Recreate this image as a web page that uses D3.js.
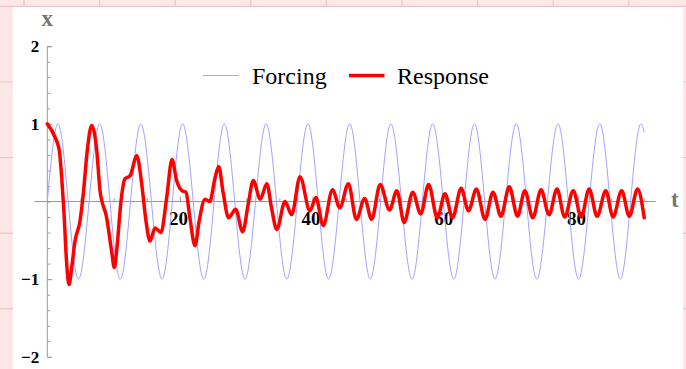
<!DOCTYPE html>
<html>
<head>
<meta charset="utf-8">
<script src="https://cdn.jsdelivr.net/npm/d3@7"></script>
<style>
  body { margin: 0; background: #fce8e8; }
  svg { display: block; }
</style>
</head>
<body>
<div id="chart"></div>
<script>
// forcing: extrema (t, x)
var forcingT = [0, 1.6, 4.7, 7.9, 11.0, 14.1, 17.3, 20.4, 23.6, 26.7, 29.8, 33.0, 36.1, 39.3, 42.4,
  45.6, 48.7, 51.8, 55.0, 58.1, 61.3, 64.4, 67.5, 70.7, 73.8, 77.0, 80.1, 83.3, 86.4, 89.5, 90];
var forcingX = [0, 1, -1, 1, -1, 1, -1, 1, -1, 1, -1, 1, -1, 1, -1,
  1, -1, 1, -1, 1, -1, 1, -1, 1, -1, 1, -1, 1, -1, 1, 0.89];

// response: points
var responseT = [0, 1.16, 1.8, 2.17, 2.5, 2.9, 3.27, 3.68, 4.18, 4.93, 5.43, 6.03, 6.69, 7.45, 7.95,
  8.95, 9.7, 10.1, 10.55, 11.07, 11.7, 12.47, 13.5, 14.23, 14.88, 15.48, 16.24, 17.14, 18.0, 18.8,
  19.5, 20.3, 20.9, 21.5, 22.27, 22.9, 23.78, 24.5, 25.3, 25.85, 26.5, 27.35, 28.4, 29.46, 30.3,
  31.06, 32.1, 33.1, 33.8, 34.6, 35.84, 36.85, 38.1, 39.6, 40.5, 41.6, 43.0, 44.1, 45.4, 46.6,
  47.85, 48.9, 50.2, 51.6, 52.7, 53.8, 55.1, 56.3, 57.5, 58.8, 59.96, 61.1, 62.4, 63.5, 64.7,
  66.0, 67.2, 68.4, 69.65, 70.9, 72.0, 73.2, 74.45, 75.65, 76.85, 78.0, 79.3, 80.5, 81.7, 82.9,
  84.2, 85.3, 86.6, 87.75, 89.0, 90.0];
var responseX = [1.00, 0.83, 0.66, 0.31, -0.12, -0.77, -1.07, -0.85, -0.51, -0.25, 0.10, 0.66, 0.98, 0.66, 0.14,
  -0.21, -0.64, -0.85, -0.55, -0.03, 0.29, 0.33, 0.59, 0.23, -0.25, -0.51, -0.34, -0.40, 0.05, 0.54,
  0.27, 0.14, 0.12, -0.21, -0.57, -0.25, 0.03, 0.0, 0.31, 0.45, 0.12, -0.21, -0.10, -0.39, -0.03,
  0.27, 0.03, 0.23, -0.08, -0.36, 0.0, -0.17, 0.32, -0.12, 0.05, -0.31, 0.15, -0.08, 0.23, -0.23,
  0.04, -0.23, 0.22, -0.11, 0.14, -0.27, 0.12, -0.16, 0.22, -0.21, 0.10, -0.21, 0.17, -0.12, 0.16,
  -0.23, 0.12, -0.19, 0.19, -0.19, 0.14, -0.21, 0.15, -0.17, 0.16, -0.2, 0.14, -0.2, 0.16, -0.19,
  0.14, -0.2, 0.14, -0.19, 0.16, -0.21];

var xTicks = [20, 40, 60, 80];
var yTicks = [-2, -1, 1, 2];
var seriesNames = ["Forcing", "Response"];

var width = 686, height = 369;

var svg = d3.select("#chart").append("svg")
    .attr("width", width)
    .attr("height", height);

// notebook grid behind the white panel
var grid = svg.append("g").attr("stroke", "#efc3c3").attr("stroke-width", 1.2);
d3.range(24, width, 75.6).forEach(function(v) {
  grid.append("line").attr("x1", v).attr("x2", v).attr("y1", 0).attr("y2", height);
});
d3.range(6.4, height, 75.6).forEach(function(v) {
  grid.append("line").attr("x1", 0).attr("x2", width).attr("y1", v).attr("y2", v);
});
svg.append("rect").attr("x", 13).attr("y", 7).attr("width", 670).attr("height", height - 7)
    .attr("fill", "#fff");

var x = d3.scaleLinear().domain([0, 80]).range([47.3, 577.9]);
var y = d3.scaleLinear().domain([-2, 2]).range([356.8, 46.2]);

var axisColor = "#999";

// y axis
var yMinor = svg.append("g").attr("transform", "translate(" + x(0) + ",0)")
    .call(d3.axisLeft(y).tickValues(d3.range(-2, 2.01, 0.2)).tickSizeInner(-3).tickSizeOuter(0).tickFormat(""));
var yMajor = svg.append("g").attr("transform", "translate(" + x(0) + ",0)")
    .call(d3.axisLeft(y).tickValues(yTicks).tickSizeInner(-5).tickSizeOuter(0).tickPadding(8)
      .tickFormat(function(d) { return d < 0 ? "\u2212" + Math.abs(d) : d; }));

// x axis
var xMinor = svg.append("g").attr("transform", "translate(0," + y(0) + ")")
    .call(d3.axisBottom(x).tickValues(d3.range(5, 91, 5)).tickSizeInner(-3).tickSizeOuter(0).tickFormat(""));
var xMajor = svg.append("g").attr("transform", "translate(0," + y(0) + ")")
    .call(d3.axisBottom(x).tickValues(xTicks).tickSizeInner(-5).tickSizeOuter(0).tickPadding(13));

[yMinor, yMajor, xMinor, xMajor].forEach(function(g) {
  g.select(".domain").remove();
  g.selectAll("line").attr("stroke", axisColor);
  g.selectAll("text")
    .attr("fill", "#000")
    .style("font-family", "'Liberation Serif', serif")
    .style("font-weight", "bold")
    .style("font-size", "17px");
});
xMajor.selectAll("text").attr("dx", "-2").style("font-size", "19px").attr("dy", "0.55em");

svg.append("line").attr("x1", x(0)).attr("x2", x(0)).attr("y1", y(2)).attr("y2", y(-2))
    .attr("stroke", axisColor);
svg.append("line").attr("x1", 34.3).attr("x2", 655.7).attr("y1", y(0)).attr("y2", y(0))
    .attr("stroke", axisColor);

svg.append("text").attr("x", x(0)).attr("y", 26).attr("text-anchor", "middle")
    .style("font-family", "'Liberation Serif', serif").style("font-weight", "bold")
    .style("font-size", "23px").attr("fill", "#777").text("x");
svg.append("text").attr("x", 671).attr("y", 207)
    .style("font-family", "'Liberation Serif', serif").style("font-weight", "bold")
    .style("font-size", "23px").attr("fill", "#777").text("t");

var forcing = forcingT.map(function(t, i) { return [t, forcingX[i]]; });
var response = responseT.map(function(t, i) { return [t, responseX[i]]; });

var line = d3.line()
    .x(function(d) { return x(d[0]); })
    .y(function(d) { return y(d[1]); })
    .curve(d3.curveMonotoneX);

svg.append("path").datum(forcing).attr("d", line)
    .attr("fill", "none").attr("stroke", "#a3a3ff").attr("stroke-width", 1);
svg.append("path").datum(response).attr("d", line)
    .attr("fill", "none").attr("stroke", "#ff0000").attr("stroke-width", 3.5)
    .attr("stroke-linejoin", "round").attr("stroke-linecap", "round");

// legend
var legend = svg.append("g");
var legendItems = [
  { name: seriesNames[0], x1: 203, x2: 239, tx: 252, color: "#a3a3ff", w: 1 },
  { name: seriesNames[1], x1: 349, x2: 384.5, tx: 397, color: "#ff0000", w: 3.5 }
];
legendItems.forEach(function(d) {
  legend.append("line").attr("x1", d.x1).attr("x2", d.x2).attr("y1", 75.5).attr("y2", 75.5)
    .attr("stroke", d.color).attr("stroke-width", d.w);
  legend.append("text").attr("x", d.tx).attr("y", 83.5)
    .style("font-family", "'Liberation Serif', serif").style("font-size", "24px")
    .attr("fill", "#000").text(d.name);
});
</script>
</body>
</html>
